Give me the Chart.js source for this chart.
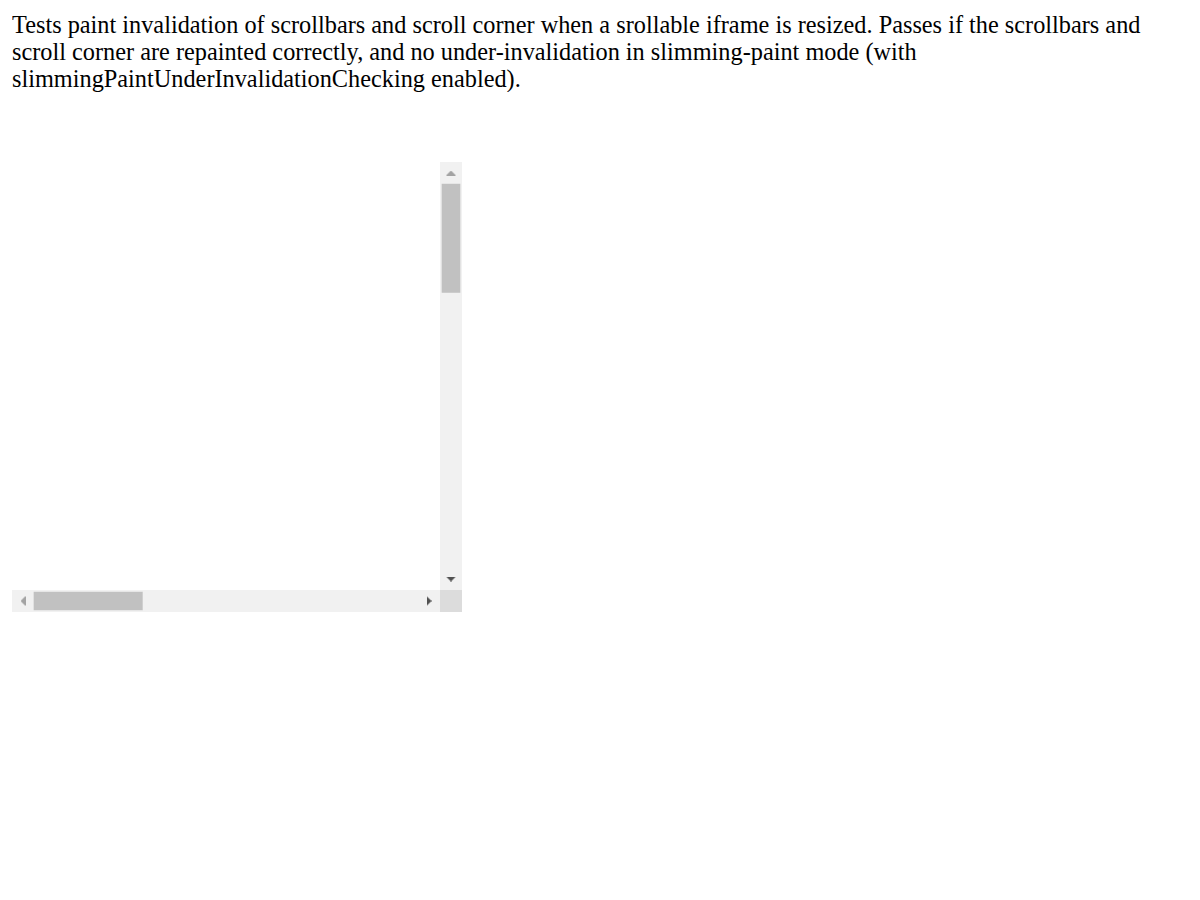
<!DOCTYPE html>
<html>
<head>
<meta charset="utf-8">
<script src="https://cdn.jsdelivr.net/npm/chart.js@4/dist/chart.umd.min.js"></script>
<style>
    body {
        margin: 11px 12px 12px 12px;
        font-family: "Liberation Serif", "Times New Roman", serif;
        font-size: 24.3px;
        line-height: 27px;
        color: #000;
        background: #fff;
    }
    #frame {
        position: absolute;
        left: 12px;
        top: 162px;
        width: 450px;
        height: 450px;
    }
    #frame canvas {
        position: absolute;
        background: #f1f1f1;
    }
    #vbar { left: 428px; top: 0; }
    #hbar { left: 0; top: 428px; }
    #corner {
        position: absolute;
        left: 428px;
        top: 428px;
        width: 22px;
        height: 22px;
        background: #dcdcdc;
    }
</style>
</head>
<body>
<div>Tests paint invalidation of scrollbars and scroll corner when a srollable iframe is resized. Passes if the scrollbars and scroll corner are repainted correctly, and no under-invalidation in slimming-paint mode (with slimmingPaintUnderInvalidationChecking enabled).</div>

<div id="frame">
    <canvas id="vbar" width="22" height="428"></canvas>
    <canvas id="hbar" width="428" height="22"></canvas>
    <div id="corner"></div>
</div>

<script>
// ============================================
// SCROLL DATA (vertical, horizontal)
// ============================================

const scrollAxes = ['v', 'h'];
const contentSize = [1010, 1010];   // document extent
const viewportSize = [285, 285];    // visible extent
const scrollOffset = [0, 0];        // current scroll position
const buttonSize = 22;              // px, arrow button length
const trackSize = 428;              // px, whole scrollbar length

// arrow glyph drawn into a tiny canvas, used as a point style
function arrowGlyph(color, dir) {
    const c = document.createElement('canvas');
    const horizontal = dir === 'left' || dir === 'right';
    c.width = horizontal ? 5 : 10;
    c.height = horizontal ? 10 : 5;
    const g = c.getContext('2d');
    g.fillStyle = color;
    g.beginPath();
    if (dir === 'up') { g.moveTo(0, 5); g.lineTo(5, 0); g.lineTo(10, 5); }
    if (dir === 'down') { g.moveTo(0, 0); g.lineTo(10, 0); g.lineTo(5, 5); }
    if (dir === 'left') { g.moveTo(5, 0); g.lineTo(5, 10); g.lineTo(0, 5); }
    if (dir === 'right') { g.moveTo(0, 0); g.lineTo(5, 5); g.lineTo(0, 10); }
    g.closePath();
    g.fill();
    return c;
}

function renderScrollbar(canvasId, i) {
    const vertical = scrollAxes[i] === 'v';
    const label = scrollAxes[i];
    const content = contentSize[i];
    // button length expressed in document units
    const btn = buttonSize / (trackSize - 2 * buttonSize) * content;
    const atStart = scrollOffset[i] <= 0;
    const atEnd = scrollOffset[i] + viewportSize[i] >= content;

    const startArrow = arrowGlyph(atStart ? '#a3a3a3' : '#505050', vertical ? 'up' : 'left');
    const endArrow = arrowGlyph(atEnd ? '#a3a3a3' : '#505050', vertical ? 'down' : 'right');

    const pos = v => vertical ? { x: label, y: v } : { x: v, y: label };

    const valueScale = {
        type: 'linear',
        min: -btn,
        max: content + btn,
        reverse: vertical,
        display: false
    };
    const indexScale = { type: 'category', labels: [label], display: false };

    new Chart(document.getElementById(canvasId), {
        data: {
            labels: [label],
            datasets: [
                {
                    type: 'bar',
                    data: [[scrollOffset[i], scrollOffset[i] + viewportSize[i]]],
                    backgroundColor: '#c1c1c1',
                    borderWidth: 0,
                    borderSkipped: false,
                    barThickness: 18
                },
                {
                    type: 'scatter',
                    data: [pos(-btn / 2), pos(content + btn / 2)],
                    pointStyle: [startArrow, endArrow],
                    pointRadius: 5,
                    clip: false
                }
            ]
        },
        options: {
            indexAxis: vertical ? 'x' : 'y',
            responsive: false,
            animation: false,
            devicePixelRatio: 1,
            events: [],
            layout: { padding: 0, autoPadding: false },
            plugins: { legend: { display: false }, tooltip: { enabled: false } },
            scales: vertical ? { x: indexScale, y: valueScale } : { x: valueScale, y: indexScale }
        }
    });
}

renderScrollbar('vbar', 0);
renderScrollbar('hbar', 1);
</script>
</body>
</html>
